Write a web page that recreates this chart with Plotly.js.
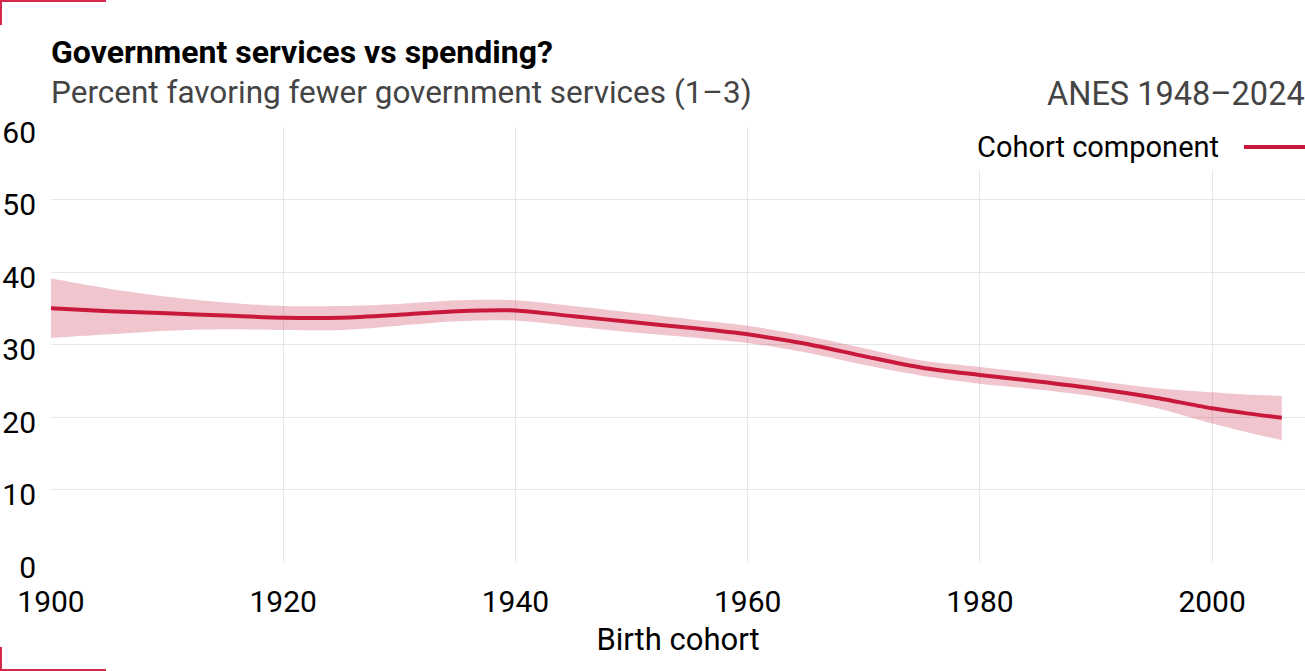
<!DOCTYPE html>
<html>
<head>
<meta charset="utf-8">
<script src="https://cdn.plot.ly/plotly-3.0.1.min.js"></script>
<style>
  html, body { margin: 0; padding: 0; background: #fff; }
  #chart { width: 1305px; height: 671px; }
</style>
</head>
<body>
<div id="chart"></div>
<script>
// Birth cohort years
var years = [1900, 1905, 1910, 1915, 1920, 1925, 1930, 1935, 1940, 1945, 1950, 1955,
             1960, 1965, 1970, 1975, 1980, 1985, 1990, 1995, 2000, 2003, 2006];
// Cohort component estimate (percent)
var cohortValues = [35.0, 34.6, 34.3, 34.0, 33.7, 33.7, 34.1, 34.6, 34.7, 33.9, 33.1, 32.3,
                    31.4, 30.1, 28.4, 26.8, 25.8, 24.9, 23.9, 22.7, 21.2, 20.5, 19.9];
// Confidence band
var upperValues = [39.1, 37.7, 36.6, 35.8, 35.3, 35.3, 35.6, 36.1, 36.1, 35.3, 34.4, 33.5,
                   32.6, 31.2, 29.5, 27.8, 26.9, 26.0, 25.0, 24.0, 23.4, 23.1, 22.9];
var lowerValues = [30.9, 31.4, 31.9, 32.1, 32.0, 32.0, 32.6, 33.2, 33.3, 32.5, 31.7, 31.0,
                   30.2, 28.9, 27.2, 25.7, 24.6, 23.8, 22.8, 21.3, 19.1, 17.9, 16.8];
var xTicks = [1900, 1920, 1940, 1960, 1980, 2000];
var yTicks = [0, 10, 20, 30, 40, 50, 60];

var seriesName = 'Cohort component';
var titleText = 'Government services vs spending?';
var subtitleText = 'Percent favoring fewer government services (1\u20133)';
var sourceText = 'ANES 1948\u20132024';
var xTitle = 'Birth cohort';

var RED = '#c8193c';
var FONT = 'Roboto, "Noto Sans", sans-serif';

// pixel helpers for the paper coordinate system
var L = 51, T = 127, W = 1254, H = 435;
function px(x) { return (x - L) / W; }
function py(y) { return (T + H - y) / H; }

var traces = [
  {
    x: years, y: upperValues, type: 'scatter', mode: 'lines',
    line: { width: 0, shape: 'spline', smoothing: 0.8 },
    hoverinfo: 'skip', showlegend: false
  },
  {
    x: years, y: lowerValues, type: 'scatter', mode: 'lines',
    fill: 'tonexty', fillcolor: 'rgba(200,25,60,0.25)',
    line: { width: 0, shape: 'spline', smoothing: 0.8 },
    hoverinfo: 'skip', showlegend: false
  },
  {
    x: years, y: cohortValues, type: 'scatter', mode: 'lines', name: seriesName,
    line: { color: RED, width: 4, shape: 'spline', smoothing: 0.8 },
    showlegend: false
  }
];

var layout = {
  width: 1305, height: 671,
  margin: { l: L, r: 0, t: T, b: 671 - T - H, pad: 0 },
  paper_bgcolor: '#fff', plot_bgcolor: '#fff',
  font: { family: FONT, color: '#000', size: 30 },
  showlegend: false,
  xaxis: {
    range: [1900, 2008], tickvals: xTicks, ticktext: xTicks.map(String),
    showgrid: true, gridcolor: '#e6e6e6', gridwidth: 1,
    zeroline: false, showline: false, ticks: '',
    tickfont: { family: FONT, size: 30, color: '#000' },
    ticklabelstandoff: 19,
    title: { text: xTitle, font: { family: FONT, size: 31, color: '#000' }, standoff: 10 }
  },
  yaxis: {
    range: [0, 60], tickvals: yTicks,
    showgrid: true, gridcolor: '#e6e6e6', gridwidth: 1,
    zeroline: false, showline: false, ticks: '',
    tickfont: { family: FONT, size: 30, color: '#000' },
    ticklabelstandoff: 14,
    ticklabelshift: 5
  },
  annotations: [
    { text: '<b>' + titleText + '</b>', xref: 'paper', yref: 'paper', x: 0, y: py(52),
      xanchor: 'left', yanchor: 'middle', showarrow: false, xshift: -2,
      font: { family: FONT, size: 32, color: '#000' } },
    { text: subtitleText, xref: 'paper', yref: 'paper', x: 0, y: py(93),
      xanchor: 'left', yanchor: 'middle', showarrow: false, xshift: -2,
      font: { family: FONT, size: 31.5, color: '#444' } },
    { text: sourceText, xref: 'paper', yref: 'paper', x: 1, y: py(94),
      xanchor: 'right', yanchor: 'middle', showarrow: false, xshift: 2,
      font: { family: FONT, size: 32.5, color: '#444' } },
    { text: seriesName, xref: 'paper', yref: 'paper', x: px(975), y: py(147),
      xanchor: 'left', yanchor: 'middle', showarrow: false,
      font: { family: FONT, size: 29, color: '#000' } }
  ],
  shapes: [
    // legend backdrop
    { type: 'rect', xref: 'paper', yref: 'paper', x0: px(962), x1: px(1305), y0: py(170), y1: py(127),
      fillcolor: '#fff', line: { width: 0 }, layer: 'above' },
    // legend line
    { type: 'line', xref: 'paper', yref: 'paper', x0: px(1244), x1: px(1305), y0: py(147), y1: py(147),
      line: { color: RED, width: 4 }, layer: 'above' },
    // corner marks
    { type: 'path', xref: 'paper', yref: 'paper',
      path: 'M ' + px(106) + ' ' + py(1) + ' L ' + px(1) + ' ' + py(1) + ' L ' + px(1) + ' ' + py(25),
      line: { color: '#d0294a', width: 2 }, layer: 'above' },
    { type: 'path', xref: 'paper', yref: 'paper',
      path: 'M ' + px(1) + ' ' + py(647) + ' L ' + px(1) + ' ' + py(670) + ' L ' + px(106) + ' ' + py(670),
      line: { color: '#d0294a', width: 2 }, layer: 'above' }
  ]
};

Plotly.newPlot('chart', traces, layout, { displayModeBar: false, staticPlot: true });
</script>
</body>
</html>
